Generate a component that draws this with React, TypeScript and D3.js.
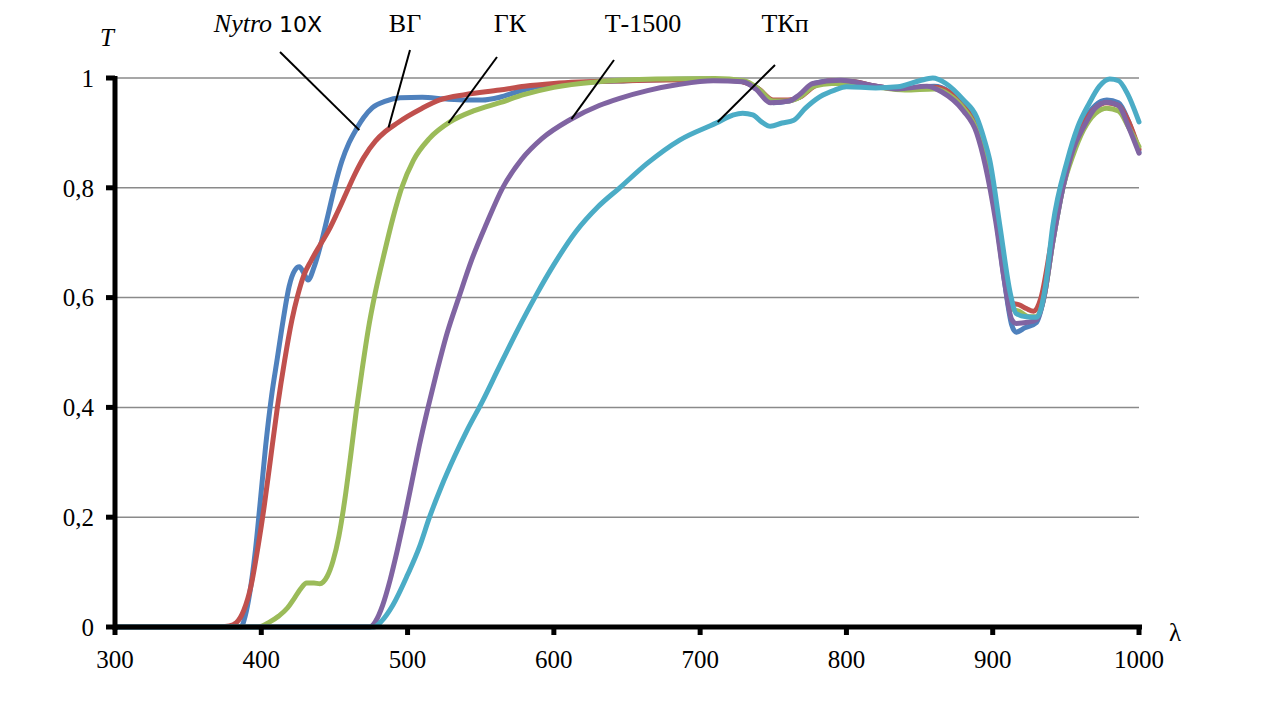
import React from "react";
import * as d3 from "d3";

type Pt = [number, number];

// wavelength (nm), transmittance
const nytro: Pt[] = [
  [300, 0], [386, 0], [389, 0.02], [392, 0.06], [396, 0.14], [399, 0.22], [403, 0.33], [407, 0.42],
  [411, 0.49], [415, 0.56], [419, 0.62], [423, 0.65], [426, 0.656], [429, 0.645], [432, 0.632],
  [436, 0.655], [441, 0.7], [446, 0.755], [450, 0.8], [455, 0.848], [460, 0.882], [465, 0.907],
  [470, 0.928], [476, 0.946], [485, 0.958], [495, 0.964], [510, 0.965], [525, 0.962], [540, 0.96],
  [551, 0.96], [563, 0.965], [575, 0.975], [590, 0.985], [610, 0.99], [650, 0.995], [700, 0.998],
  [725, 0.995], [740, 0.98], [750, 0.955], [760, 0.958], [768, 0.965], [778, 0.99], [790, 0.995],
  [805, 0.993], [820, 0.985], [840, 0.98], [860, 0.985], [870, 0.975], [880, 0.945], [889, 0.91],
  [895, 0.85], [902, 0.75], [908, 0.63], [913, 0.55], [916, 0.537], [922, 0.545], [930, 0.555],
  [935, 0.6], [941, 0.7], [948, 0.8], [955, 0.87], [962, 0.92], [970, 0.95], [978, 0.96],
  [986, 0.955], [993, 0.92], [1000, 0.865],
];

const vg: Pt[] = [
  [300, 0], [370, 0], [378, 0.002], [383, 0.008], [388, 0.03], [393, 0.075], [398, 0.15], [402, 0.22],
  [406, 0.3], [411, 0.4], [416, 0.486], [421, 0.56], [425, 0.605], [429, 0.64], [434, 0.667],
  [440, 0.695], [446, 0.722], [452, 0.755], [458, 0.79], [464, 0.825], [470, 0.855],
  [478, 0.885], [485, 0.903], [493, 0.918], [500, 0.93], [510, 0.945], [522, 0.96], [540, 0.97],
  [563, 0.978], [580, 0.985], [600, 0.99], [650, 0.995], [700, 0.997], [725, 0.995], [740, 0.98],
  [750, 0.96], [760, 0.96], [768, 0.965], [778, 0.985], [790, 0.995], [805, 0.993], [820, 0.985],
  [840, 0.98], [860, 0.983], [870, 0.975], [880, 0.95], [889, 0.91], [895, 0.85], [902, 0.75],
  [908, 0.65], [913, 0.59], [918, 0.587], [923, 0.58], [928, 0.575], [933, 0.6], [940, 0.7],
  [947, 0.8], [955, 0.87], [962, 0.915], [970, 0.945], [978, 0.955], [986, 0.95], [993, 0.92],
  [1000, 0.87],
];

const gk: Pt[] = [
  [300, 0], [398, 0], [405, 0.008], [412, 0.02], [418, 0.035], [422, 0.05], [427, 0.07], [431, 0.08],
  [436, 0.08], [440, 0.079], [445, 0.092], [449, 0.12], [453, 0.165], [457, 0.23], [461, 0.31],
  [465, 0.395], [469, 0.47], [473, 0.54], [478, 0.61], [484, 0.68], [490, 0.745], [496, 0.8],
  [504, 0.85], [515, 0.89], [529, 0.92], [545, 0.94], [563, 0.955], [580, 0.97],
  [600, 0.983], [630, 0.993], [670, 0.998], [710, 0.999], [730, 0.995], [740, 0.98], [750, 0.958],
  [760, 0.958], [768, 0.965], [778, 0.985], [790, 0.99], [805, 0.99], [820, 0.984], [840, 0.978],
  [860, 0.98], [870, 0.97], [880, 0.945], [889, 0.905], [895, 0.85], [902, 0.75], [908, 0.64],
  [913, 0.58], [918, 0.575], [925, 0.565], [930, 0.565], [935, 0.6], [941, 0.7], [948, 0.8],
  [955, 0.86], [962, 0.905], [970, 0.935], [978, 0.945], [986, 0.94], [993, 0.91], [1000, 0.875],
];

const t1500: Pt[] = [
  [300, 0], [474, 0], [478, 0.01], [483, 0.04], [488, 0.085], [493, 0.14], [498, 0.2], [503, 0.265],
  [508, 0.33], [514, 0.4], [520, 0.465], [527, 0.535], [535, 0.6], [544, 0.67], [554, 0.735],
  [565, 0.8], [578, 0.852], [592, 0.89], [611, 0.924], [631, 0.95], [645, 0.963], [664, 0.977],
  [685, 0.988], [709, 0.995], [729, 0.993],
  [738, 0.98], [748, 0.955], [761, 0.958], [768, 0.97], [777, 0.99], [796, 0.996], [816, 0.987],
  [835, 0.98], [855, 0.985], [865, 0.975], [880, 0.94], [889, 0.9], [895, 0.84], [902, 0.74],
  [908, 0.63], [913, 0.56], [916, 0.553], [924, 0.555], [930, 0.56], [935, 0.6], [941, 0.7],
  [948, 0.8], [955, 0.87], [962, 0.91], [970, 0.945], [978, 0.956], [986, 0.95], [993, 0.91],
  [1000, 0.863],
];

const tkp: Pt[] = [
  [300, 0], [477, 0], [482, 0.01], [490, 0.04], [500, 0.095], [508, 0.145], [515, 0.2], [523, 0.255],
  [532, 0.31], [541, 0.36], [551, 0.41], [562, 0.47], [575, 0.54], [588, 0.605], [600, 0.66],
  [615, 0.72], [630, 0.765], [645, 0.8], [664, 0.845], [686, 0.887], [711, 0.918], [722, 0.932],
  [729, 0.936], [736, 0.933], [742, 0.92], [748, 0.912], [756, 0.918], [764, 0.923], [772, 0.945],
  [782, 0.966], [792, 0.978], [800, 0.984], [820, 0.982], [835, 0.984], [850, 0.995], [859, 1.0],
  [868, 0.99], [880, 0.96], [889, 0.929], [894, 0.89], [898, 0.85], [905, 0.729], [912, 0.608],
  [916, 0.571], [923, 0.565], [930, 0.564], [936, 0.62], [941, 0.73], [951, 0.85], [958, 0.91],
  [966, 0.954], [973, 0.985], [980, 0.998], [986, 0.995], [992, 0.972], [1000, 0.92],
];

const seriesNames = ["Nytro 10X", "ВГ", "ГК", "Т-1500", "ТКп"];
const seriesData = [nytro, vg, gk, t1500, tkp];
const seriesColors = ["#4f81bd", "#c0504d", "#9bbb59", "#8064a2", "#4bacc6"];

const xTicks = [300, 400, 500, 600, 700, 800, 900, 1000];
const yTicks = [0, 0.2, 0.4, 0.6, 0.8, 1];

// label anchor in px, leader start in px, leader end in data coords
const labelPos: Pt[] = [[268, 32], [405, 32], [510, 32], [643, 32], [785, 32]];
const leaderStart: Pt[] = [[280, 52], [410, 50], [497, 57], [614, 60], [775, 65]];
const leaderEnd: Pt[] = [[467, 0.905], [487, 0.91], [528, 0.918], [612, 0.925], [712, 0.92]];

export default function App() {
  const W = 1266;
  const H = 711;
  const x = d3.scaleLinear().domain([300, 1000]).range([115, 1139]);
  const y = d3.scaleLinear().domain([0, 1]).range([627, 78]);

  const line = d3
    .line<Pt>()
    .x((d) => x(d[0]))
    .y((d) => y(d[1]))
    .curve(d3.curveMonotoneX);

  const serif = "'Liberation Serif', 'Times New Roman', serif";
  const fmt = (v: number) => (v === 0 || v === 1 ? String(v) : v.toFixed(1).replace(".", ","));

  return (
    <svg
      width={W}
      height={H}
      style={{ position: "absolute", left: 0, top: 0, background: "#fff", fontFamily: serif }}
    >
      <rect width={W} height={H} fill="#fff" />
      {/* gridlines */}
      {yTicks.filter((t) => t > 0).map((t) => (
        <line key={t} x1={x(300)} x2={x(1000)} y1={y(t)} y2={y(t)} stroke="#8a8a8a" strokeWidth={1.5} />
      ))}

      {/* curves */}
      {seriesData.map((s, i) => (
        <path
          key={seriesNames[i]}
          d={line(s) || undefined}
          fill="none"
          stroke={seriesColors[i]}
          strokeWidth={5}
          strokeLinejoin="round"
          strokeLinecap="round"
        />
      ))}

      {/* axes */}
      <line x1={x(300)} x2={x(300)} y1={y(1) - 2} y2={y(0) + 3} stroke="#000" strokeWidth={5} />
      <line x1={x(300) - 2} x2={x(1000) + 3} y1={y(0)} y2={y(0)} stroke="#000" strokeWidth={5} />
      {yTicks.map((t) => (
        <g key={t}>
          <line x1={x(300) - 9} x2={x(300)} y1={y(t)} y2={y(t)} stroke="#000" strokeWidth={5} />
          <text x={94} y={y(t)} dy="0.35em" textAnchor="end" fontSize={25} style={{ fontFamily: serif }}>
            {fmt(t)}
          </text>
        </g>
      ))}
      {xTicks.map((t) => (
        <g key={t}>
          <line x1={x(t)} x2={x(t)} y1={y(0)} y2={y(0) + 8} stroke="#000" strokeWidth={5} />
          <text x={x(t)} y={668} textAnchor="middle" fontSize={25} style={{ fontFamily: serif }}>
            {t}
          </text>
        </g>
      ))}
      <text x={107} y={46} fontSize={25} fontStyle="italic" textAnchor="middle" style={{ fontFamily: serif }}>
        T
      </text>
      <text x={1175} y={641} fontSize={25} textAnchor="middle" style={{ fontFamily: serif }}>
        λ
      </text>

      {/* series labels with leaders */}
      {seriesNames.map((n, i) => (
        <g key={n}>
          <line
            x1={leaderStart[i][0]}
            y1={leaderStart[i][1]}
            x2={x(leaderEnd[i][0])}
            y2={y(leaderEnd[i][1])}
            stroke="#000"
            strokeWidth={2}
          />
          {i === 0 ? (
            <text x={labelPos[i][0]} y={labelPos[i][1]} textAnchor="middle" fontSize={26} style={{ fontFamily: serif }}>
              <tspan fontStyle="italic">Nytro</tspan>
              <tspan style={{ fontFamily: "'DejaVu Sans', sans-serif" }} fontSize={22}> 10X</tspan>
            </text>
          ) : (
            <text x={labelPos[i][0]} y={labelPos[i][1]} textAnchor="middle" fontSize={26} style={{ fontFamily: serif }}>
              {n}
            </text>
          )}
        </g>
      ))}
    </svg>
  );
}
